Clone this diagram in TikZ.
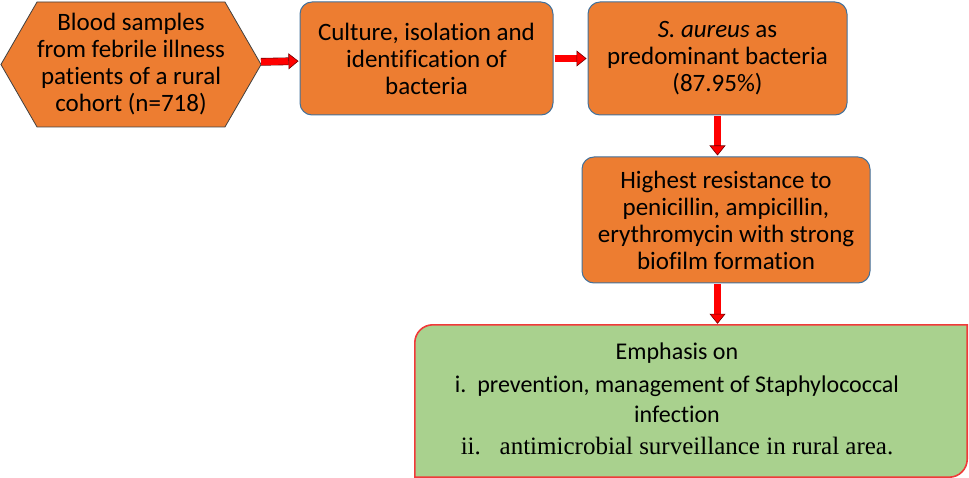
\documentclass[tikz,border=0pt]{standalone}
\usepackage{fontspec}
\setmainfont{Carlito}[Ligatures=NoCommon]
\newfontfamily\timesfont{Liberation Serif}
\usetikzlibrary{arrows.meta,shapes.symbols,backgrounds}
\definecolor{boxorange}{HTML}{ED7D31}
\definecolor{boxedge}{HTML}{41719C}
\definecolor{emphgreen}{HTML}{A9D18E}
\definecolor{emphred}{HTML}{F03A3A}
\definecolor{arrowred}{HTML}{FF0000}
\definecolor{arrowedge}{HTML}{6E0000}
\begin{document}
\begin{tikzpicture}[x=1pt, y=1pt, font=\fontsize{25}{27}\selectfont,
  step box/.style = {draw=boxedge, line width=1pt, fill=boxorange, rounded corners=12pt, align=center, inner sep=0pt},
  hexbox/.style = {draw=black!75, line width=0.8pt, fill=boxorange, shape=signal, signal to=east and west, signal from=nowhere, signal pointer angle=120, align=center, inner sep=0pt},
  emphbox/.style = {inner sep=0pt, minimum width=552, minimum height=152, font=\fontsize{24}{30}\selectfont},
  emphline/.style = {draw=emphred, line width=1.6pt, fill=emphgreen},
  blockarrow/.style = {draw=arrowedge, line width=0.6pt, double=arrowred, double distance=6.5pt, -{Triangle[length=10pt, width=16pt, fill=arrowred]}, shorten >=1pt, shorten <=1pt}]
  \useasboundingbox (0,0) rectangle (969,-478);
  \node[hexbox, minimum width=260, minimum height=125] (blood) at (131,-64.5) {Blood samples\\from febrile illness\\patients of a rural\\cohort (n=718)};
  \node[step box, minimum width=253, minimum height=113] (culture) at (426.5,-58.5) {Culture, isolation and\\identification of\\bacteria};
  \node[step box, minimum width=259, minimum height=113] (aureus) at (717.5,-58.5) {\textit{S. aureus} as\\predominant bacteria\\(87.95\%)};
  \node[step box, minimum width=288, minimum height=126] (resist) at (726,-220) {Highest resistance to\\penicillin, ampicillin,\\erythromycin with strong\\biofilm formation};
  \node[emphbox] (emph) at (691,-401) {\hspace*{-28pt}\begin{tabular}{@{}c@{}}Emphasis on\\[3pt]
    i.\ \ prevention, management of Staphylococcal\\ infection\\[2pt]
    {\fontsize{25}{30}\timesfont ii.\ \ \ antimicrobial surveillance in rural area.}\end{tabular}};
  \begin{scope}[on background layer]
    \draw[emphline] (emph.south west) [rounded corners=18pt] -- (emph.north west) [sharp corners] -- (emph.north east) [rounded corners=18pt] -- (emph.south east) [sharp corners] -- cycle;
  \end{scope}
  \draw[blockarrow] (blood) -- (culture);
  \draw[blockarrow] (culture) -- (aureus);
  \draw[blockarrow] (aureus) -- (resist.north -| aureus.south);
  \draw[blockarrow] (resist.south -| aureus.south) -- (emph.north -| aureus.south);
\end{tikzpicture}
\end{document}
